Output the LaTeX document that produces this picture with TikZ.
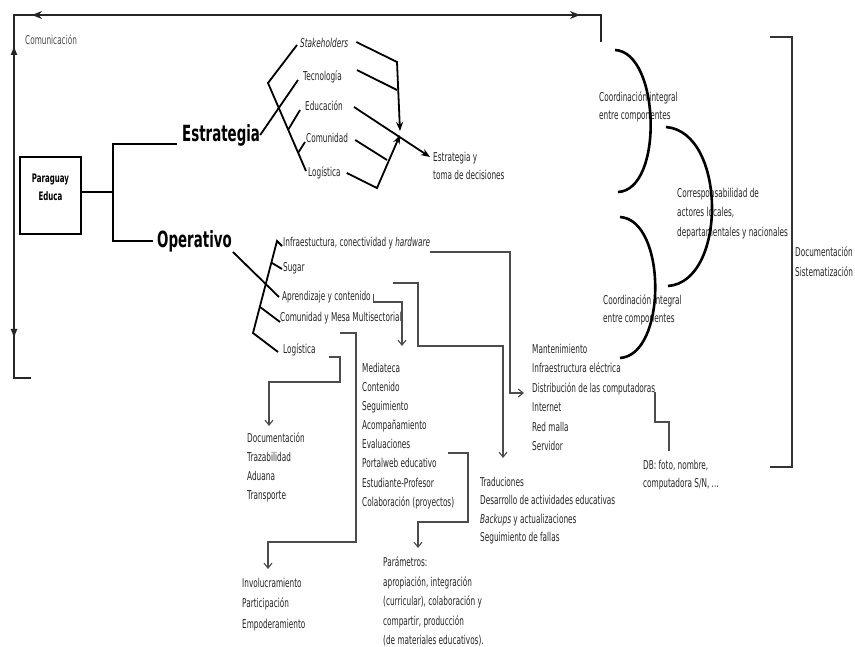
\documentclass[tikz,border=0pt]{standalone}
\usepackage{fontspec}
\setmainfont{DejaVu Sans}[FakeStretch=0.6]
\usetikzlibrary{arrows.meta,decorations.markings}
\begin{document}
\begin{tikzpicture}[x=1pt,y=-1pt,
  lbl/.style={anchor=west,inner sep=0pt,text=black!85,font=\fontsize{12.2}{19}\selectfont},
  lst/.style={anchor=north west,inner sep=0pt,align=left,text=black!85,font=\fontsize{12.2}{#1}\selectfont},
  lst/.default=19,
  head/.style={anchor=west,inner sep=0pt,font=\bfseries\fontsize{22.3}{26}\selectfont},
  fan/.style={draw=black,line width=1.8pt},
  conn/.style={draw=black!70,line width=1.1pt},
  opentip/.style={-{Straight Barb[length=5pt,width=8pt]}},
  ftip/.style={-{Stealth[length=9pt,width=7pt]}},
  arcl/.style={draw=black,line width=2.6pt},
  loopl/.style={draw=black!85,line width=1.7pt},
  brk/.style={draw=black!80,line width=2.4pt},
]
\fill[white] (0,0) rectangle (855,647);
\useasboundingbox (0,0) rectangle (855,647);

% ---------- main nodes ----------
\node[draw=black,line width=1.4pt,minimum width=61pt,minimum height=77pt,inner sep=0pt] (pebox) at (50.5,195.5) {};
\node[inner sep=0pt,align=center,font=\bfseries\fontsize{11.7}{18}\selectfont] (petxt) at (50.5,187) {Paraguay\\Educa};
\node[head] (estr) at (182,135) {Estrategia};
\node[head] (oper) at (157,241) {Operativo};
\node[lbl,text=black!70] (comu) at (25,40) {Comunicación};

% ---------- Estrategia labels ----------
\node[lbl] (stake) at (300,43) {\textit{Stakeholders}};
\node[lbl] (tec) at (303,77) {Tecnología};
\node[lbl] (edu) at (305,106) {Educación};
\node[lbl] (comE) at (306,138) {Comunidad};
\node[lbl] (logE) at (308,173) {Logística};
\node[lst=18] (estdec) at (433,152) {Estrategia y\\toma de decisiones};

% ---------- Operativo labels ----------
\node[lbl] (infra) at (283,243) {Infraestuctura, conectividad y \textit{hardware}};
\node[lbl] (sugar) at (283,268) {Sugar};
\node[lbl] (apr) at (282,297) {Aprendizaje y contenido};
\node[lbl] (mesa) at (280,318) {Comunidad y Mesa Multisectorial};
\node[lbl] (logO) at (283,350) {Logística};

% ---------- lists ----------
\node[lst=19.4] (mant) at (532,344) {Mantenimiento\\Infraestructura eléctrica\\Distribución de las computadoras\\Internet\\Red malla\\Servidor};
\node[lst=19.1] (media) at (362,363) {Mediateca\\Contenido\\Seguimiento\\Acompañamiento\\Evaluaciones\\Portalweb educativo\\Estudiante-Profesor\\Colaboración (proyectos)};
\node[lst=19] (docs) at (247,433) {Documentación\\Trazabilidad\\Aduana\\Transporte};
\node[lst=18.4] (trad) at (480,477) {Traduciones\\Desarrollo de actividades educativas\\\textit{Backups} y actualizaciones\\Seguimiento de fallas};
\node[lst=18] (db) at (643,460) {DB: foto, nombre,\\computadora S/N, ...};
\node[lst=20.5] (invol) at (242,578) {Involucramiento\\Participación\\Empoderamiento};
\node[lst=19.5] (param) at (383,557) {Parámetros:\\apropiación, integración\\(curricular), colaboración y\\compartir, producción\\(de materiales educativos).};
\node[lst=18] (coord1) at (599,92) {Coordinación integral\\entre componentes};
\node[lst=19.5] (corres) at (677,188) {Corresponsabilidad de\\actores locales,\\departamentales y nacionales};
\node[lst=18] (coord2) at (603,295) {Coordinación integral\\entre componentes};
\node[lst=19.5] (docsis) at (795,247) {Documentación\\Sistematización};

% ---------- trunk ----------
\coordinate (jP) at (113,192);
\coordinate (jE) at (113,144);
\coordinate (jO) at (113,241);
\coordinate (eIn) at (177,144);
\coordinate (oIn) at (153,241);
\draw[fan] (pebox.east |- jP) -- (jP);
\draw[fan] (eIn) -- (jE) -- (jO) -- (oIn);

% ---------- Estrategia fan ----------
\coordinate (s0) at (268,83);
\coordinate (s1) at (297,45);
\coordinate (s2) at (306,171);
\coordinate (t1) at (298,80);
\coordinate (e0) at (288,130);
\coordinate (e1) at (300,110);
\coordinate (c0) at (298,153);
\coordinate (c1) at (305,142);
\draw[fan] (s1) -- (s0) -- (s2);
\draw[fan] (estr.east) -- (t1);
\draw[fan] (e0) -- (e1);
\draw[fan] (c0) -- (c1);

\coordinate (r1) at (397,62);
\coordinate (r2) at (397,90);
\coordinate (rd) at (400,131);
\coordinate (ru) at (400,135);
\coordinate (r3) at (377,188);
\coordinate (r4) at (387,160);
\coordinate (rE) at (430,157);
\draw[fan,ftip] ([shift={(8,-1)}]stake.east) -- (r1) -- (rd);
\draw[fan] ([shift={(15,-7)}]tec.east) -- (r2);
\draw[fan,ftip] ([shift={(11,1)}]edu.east) -- (rE);
\draw[fan] ([shift={(7,2)}]comE.east) -- (r4);
\draw[fan,ftip] ([shift={(6,0)}]logE.east) -- (r3) -- (ru);

% ---------- Operativo fan ----------
\coordinate (o0) at (277,241);
\coordinate (o1) at (253,333);
\coordinate (oS) at (272,263);
\coordinate (oC) at (260,307);
\draw[fan] ([shift={(-1,3)}]infra.west) -- (o0) -- (o1) -- ([shift={(-5,2)}]logO.west);
\draw[fan] ([shift={(1,11)}]oper.east) -- ([shift={(-3,0)}]apr.west);
\draw[fan] (oS) -- ([shift={(-1,1)}]sugar.west);
\draw[fan] (oC) -- ([shift={(0,4)}]mesa.west);

% ---------- inner connectors ----------
\coordinate (i1) at (510,252);
\coordinate (i2) at (510,393);
\coordinate (i3) at (524,393);
\draw[conn,opentip] ([shift={(0,9)}]infra.east) -- (i1) -- (i2) -- (i3);

\coordinate (g0) at (393,283);
\coordinate (g1) at (418,283);
\coordinate (g2) at (418,346);
\coordinate (g3) at (503,346);
\coordinate (g4) at (503,458);
\draw[conn,opentip] (g0) -- (g1) -- (g2) -- (g3) -- (g4);

\coordinate (a1) at (402,302);
\coordinate (a2) at (402,346);
\draw[conn,opentip] ([shift={(3,-3)}]apr.east) -- ([shift={(3,5)}]apr.east) -- (a1) -- (a2);

\coordinate (m0) at (340,333);
\coordinate (m1) at (356,333);
\coordinate (m2) at (356,542);
\coordinate (m3) at (268,542);
\coordinate (m4) at (268,569);
\draw[conn,opentip] (m0) -- (m1) -- (m2) -- (m3) -- (m4);

\coordinate (l1) at (340,357);
\coordinate (l2) at (340,382);
\coordinate (l3) at (269,382);
\coordinate (l4) at (269,426);
\draw[conn,opentip] ([shift={(13,7)}]logO.east) -- (l1) -- (l2) -- (l3) -- (l4);

\coordinate (v0) at (448,453);
\coordinate (v1) at (468,453);
\coordinate (v2) at (468,522);
\coordinate (v3) at (418,522);
\coordinate (v4) at (418,548);
\draw[conn,opentip] (v0) -- (v1) -- (v2) -- (v3) -- (v4);

\coordinate (d0) at (655,392);
\coordinate (d1) at (655,422);
\coordinate (d2) at (669,422);
\coordinate (d3) at (669,451);
\draw[conn] (d0) -- (d1) -- (d2) -- (d3);

% ---------- communication loop ----------
\coordinate (L0) at (601,42);
\coordinate (L1) at (601,15);
\coordinate (L2) at (14,15);
\coordinate (L3) at (14,378);
\coordinate (L4) at (31,378);
\draw[loopl,postaction={decorate},decoration={markings,
  mark=at position 48pt with {\arrowreversed{Stealth[length=10pt,width=8pt]}},
  mark=at position 596pt with {\arrow{Stealth[length=10pt,width=8pt]}},
  mark=at position 644pt with {\arrowreversed{Latex[length=10pt,width=7pt]}},
  mark=at position 938pt with {\arrow{Latex[length=10pt,width=7pt]}}}]
  (L0) -- (L1) -- (L2) -- (L3) -- (L4);

% ---------- arcs ----------
\draw[arcl] (615,50) .. controls (660,52) and (664,190) .. (618,192);
\draw[arcl] (666,127) .. controls (727,132) and (727,282) .. (668,286);
\draw[arcl] (620,217) .. controls (667,220) and (667,355) .. (620,358);

% ---------- bracket ----------
\draw[brk] (770,37) -- (792,37) -- (792,467) -- (770,467);
\end{tikzpicture}
\end{document}
